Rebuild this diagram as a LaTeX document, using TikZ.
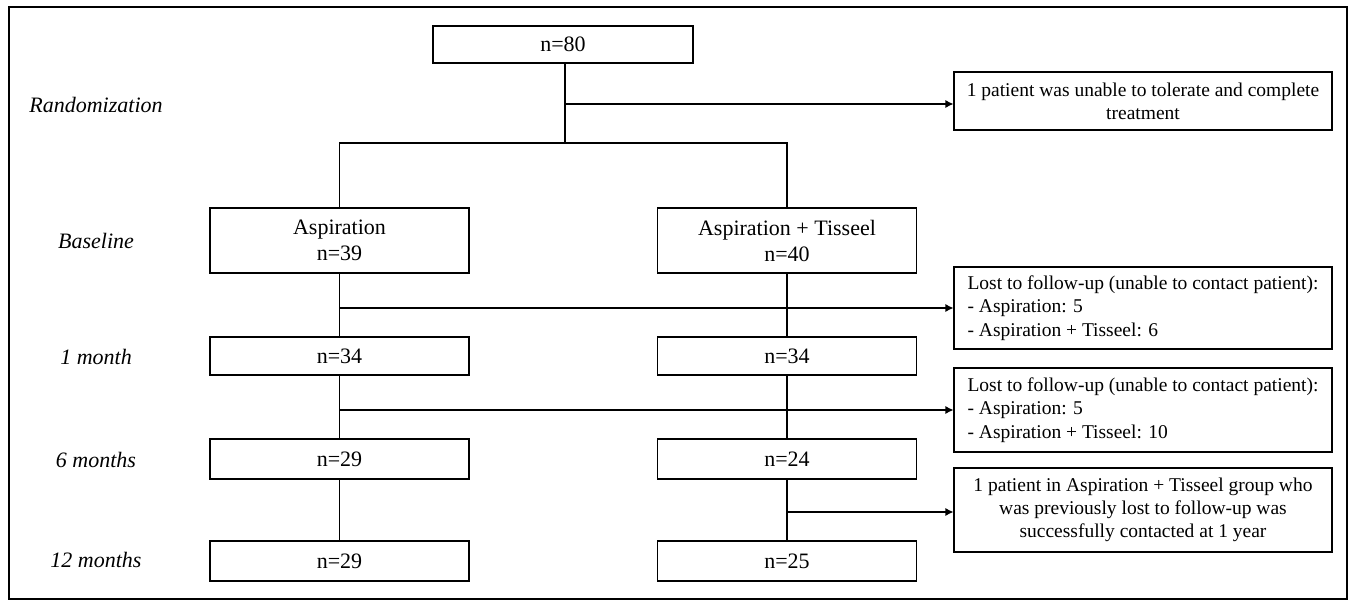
\documentclass[tikz,border=0pt]{standalone}
\usepackage{fontspec}
\setmainfont{Liberation Serif}
\usetikzlibrary{arrows.meta}
\begin{document}
\begin{tikzpicture}[x=1pt,y=-1pt,
  box/.style={draw, line width=1.1pt, inner sep=0pt, font=\fontsize{22}{26}\selectfont},
  mainbox/.style={box, minimum width=259pt},
  sidebox/.style={draw, line width=1.1pt, inner sep=0pt, minimum width=378pt, font=\fontsize{19.5}{23.3}\selectfont},
  lbl/.style={font=\fontsize{22}{26}\selectfont\itshape},
  conn/.style={line width=1.1pt},
  arr/.style={conn, -{Latex[length=8pt,width=8pt]}}]
\useasboundingbox (0,0) rectangle (1350,601);
\draw[line width=2.5pt] (9,7) rectangle (1347,599);
% left labels
\node[lbl] (lr) at (96,105) {Randomization};
\node[lbl] (lb) at (96,241) {Baseline};
\node[lbl] (l1m) at (96,357) {1 month};
\node[lbl] (l6m) at (96,460) {6 months};
\node[lbl] (l12m) at (96,560) {12 months};
% main boxes
\node[box, minimum width=260pt, minimum height=37pt] (top) at (563,44.5) {n=80};
\node[mainbox, minimum height=65pt, align=center] (asp) at (339.5,240.5) {Aspiration\\n=39};
\node[mainbox, minimum height=65pt, align=center] (tis) at (787,240.5) {Aspiration + Tisseel\\n=40};
\node[mainbox, minimum height=38pt] (a1) at (339.5,356) {n=34};
\node[mainbox, minimum height=38pt] (t1) at (787,356) {n=34};
\node[mainbox, minimum height=40pt] (a6) at (339.5,459) {n=29};
\node[mainbox, minimum height=40pt] (t6) at (787,459) {n=24};
\node[mainbox, minimum height=40pt] (a12) at (339.5,561) {n=29};
\node[mainbox, minimum height=40pt] (t12) at (787,561) {n=25};
% side boxes
\node[sidebox, minimum height=58pt, align=center] (r1) at (1143,101)
  {1 patient was unable to tolerate and complete\\treatment};
\node[sidebox, minimum height=82pt, align=left] (r2) at (1143,308)
  {Lost to follow-up (unable to contact patient):\\- Aspiration: 5\\- Aspiration + Tisseel: 6};
\node[sidebox, minimum height=84pt, align=left] (r3) at (1143,410)
  {Lost to follow-up (unable to contact patient):\\- Aspiration: 5\\- Aspiration + Tisseel: 10};
\node[sidebox, minimum height=84pt, align=center] (r4) at (1143,510)
  {1 patient in Aspiration + Tisseel group who\\was previously lost to follow-up was\\successfully contacted at 1 year};
% connectors
\coordinate (split) at (565,143);
\draw[conn] (top.south -| split) -- (split);
\draw[conn] (split) -| (asp.north);
\draw[conn] (split) -| (tis.north);
\draw[arr] (split |- 0,104) -- (r1.west |- 0,104);
\draw[conn] (asp) -- (a1);
\draw[conn] (tis) -- (t1);
\draw[arr] (asp.south |- r2.west) -- (r2.west);
\draw[conn] (a1) -- (a6);
\draw[conn] (t1) -- (t6);
\draw[arr] (a1.south |- r3.west) -- (r3.west);
\draw[conn] (a6) -- (a12);
\draw[conn] (t6) -- (t12);
\draw[arr] (t6.south |- 0,512) -- (r4.west |- 0,512);
\end{tikzpicture}
\end{document}
